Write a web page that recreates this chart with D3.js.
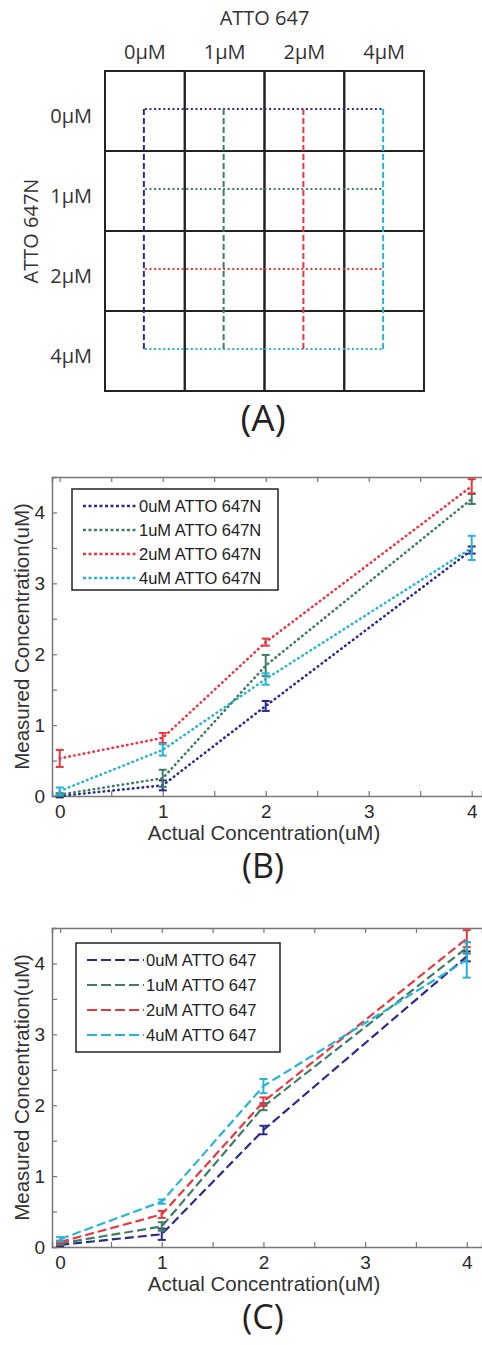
<!DOCTYPE html>
<html>
<head>
<meta charset="utf-8">
<script src="https://cdn.jsdelivr.net/npm/d3@7"></script>
<style>
  body { margin: 0; background: #fff; }
  svg { display: block; }
</style>
</head>
<body>
<script>
// panel A grid labels
const concLabels = ["0μM", "1μM", "2μM", "4μM"]
const colors = ["#2b2b8e", "#3f7c64", "#e8373f", "#27b3d8"]

// panels B and C share x values
const actual = [0, 1, 2, 4]
const xTicks = [0, 0.5, 1, 1.5, 2, 2.5, 3, 3.5, 4]
const yTicks = [0, 0.5, 1, 1.5, 2, 2.5, 3, 3.5, 4]

const legendB = ["0uM ATTO 647N", "1uM ATTO 647N", "2uM ATTO 647N", "4uM ATTO 647N"]
const b0 = [0.00, 0.15, 1.27, 3.47]
const b1 = [0.02, 0.25, 1.84, 4.19]
const b2 = [0.53, 0.82, 2.17, 4.37]
const b3 = [0.07, 0.65, 1.65, 3.50]
const bErr0 = [0.02, 0.07, 0.07, 0.05]
const bErr1 = [0.02, 0.12, 0.15, 0.07]
const bErr2 = [0.12, 0.07, 0.05, 0.10]
const bErr3 = [0.05, 0.08, 0.08, 0.17]

const legendC = ["0uM ATTO 647", "1uM ATTO 647", "2uM ATTO 647", "4uM ATTO 647"]
const c0 = [0.03, 0.18, 1.65, 4.10]
const c1 = [0.05, 0.29, 1.98, 4.22]
const c2 = [0.07, 0.46, 2.05, 4.35]
const c3 = [0.11, 0.64, 2.27, 4.05]
const cErr0 = [0.02, 0.08, 0.06, 0.07]
const cErr1 = [0.02, 0.06, 0.05, 0.08]
const cErr2 = [0.02, 0.05, 0.06, 0.12]
const cErr3 = [0.03, 0.03, 0.10, 0.25]

const W = 482, H = 1345

const svg = d3.select("body")
  .append("svg")
  .attr("width", W)
  .attr("height", H)

// ---------- panel A ----------
const gridFont = "'Open Sans', 'Noto Sans', sans-serif"
const colScale = d3.scaleBand().domain(concLabels).range([105, 424])
const rowScale = d3.scaleBand().domain(concLabels).range([71, 391])
const colMid = d => colScale(d) + colScale.bandwidth() / 2
const rowMid = d => rowScale(d) + rowScale.bandwidth() / 2

const gA = svg.append("g")

gA.append("text")
  .attr("x", colScale.range()[0] + (colScale.range()[1] - colScale.range()[0]) / 2)
  .attr("y", 25)
  .attr("text-anchor", "middle")
  .style("font-family", gridFont).style("font-size", "20px").attr("fill", "#333")
  .text("ATTO 647")

gA.selectAll(".colLabel")
  .data(concLabels)
  .enter()
  .append("text")
  .attr("x", d => colMid(d))
  .attr("y", 59)
  .attr("text-anchor", "middle")
  .style("font-family", gridFont).style("font-size", "20px").attr("fill", "#333")
  .text(d => d)

gA.selectAll(".rowLabel")
  .data(concLabels)
  .enter()
  .append("text")
  .attr("x", 92)
  .attr("y", d => rowMid(d) + 12)
  .attr("text-anchor", "end")
  .style("font-family", gridFont).style("font-size", "20px").attr("fill", "#333")
  .text(d => d)

gA.append("text")
  .attr("transform", "translate(38, 231) rotate(-90)")
  .attr("text-anchor", "middle")
  .style("font-family", gridFont).style("font-size", "20px").attr("fill", "#333")
  .text("ATTO 647N")

// grid cells
const cells = []
concLabels.forEach(r => concLabels.forEach(c => cells.push({r, c})))
gA.selectAll("rect")
  .data(cells)
  .enter()
  .append("rect")
  .attr("x", d => colScale(d.c))
  .attr("y", d => rowScale(d.r))
  .attr("width", colScale.bandwidth())
  .attr("height", rowScale.bandwidth())
  .attr("fill", "none")
  .attr("stroke", "#222")
  .attr("stroke-width", 2)

// horizontal dotted lines (ATTO 647N rows)
gA.selectAll(".hline")
  .data(concLabels)
  .enter()
  .append("line")
  .attr("x1", colMid(concLabels[0]))
  .attr("x2", colMid(concLabels[3]))
  .attr("y1", d => rowMid(d) - 2)
  .attr("y2", d => rowMid(d) - 2)
  .attr("stroke", (d, i) => colors[i])
  .attr("stroke-width", 2)
  .attr("stroke-dasharray", "2,2.6")

// vertical dashed lines (ATTO 647 columns)
gA.selectAll(".vline")
  .data(concLabels)
  .enter()
  .append("line")
  .attr("x1", d => colMid(d) - 1)
  .attr("x2", d => colMid(d) - 1)
  .attr("y1", rowMid(concLabels[0]) - 2)
  .attr("y2", rowMid(concLabels[3]) - 1)
  .attr("stroke", (d, i) => colors[i])
  .attr("stroke-width", 2)
  .attr("stroke-dasharray", "6,3")

gA.append("text")
  .attr("x", 263).attr("y", 431)
  .attr("text-anchor", "middle")
  .style("font-family", gridFont).style("font-size", "37px").attr("fill", "#222")
  .text("(A)")

// ---------- panels B and C ----------
function drawPlot(cfg) {
  const x = d3.scaleLinear().domain(cfg.xDomain).range([52, 482])
  const y = d3.scaleLinear().domain([0, 4.5]).range([cfg.bottom, cfg.top])
  const g = svg.append("g")
  const font = "'Liberation Sans', Arial, sans-serif"

  const xAxis = d3.axisBottom(x).tickValues(xTicks)
    .tickSize(-5).tickPadding(9)
    .tickFormat(d => Number.isInteger(d) ? d : "")
  const xTop = d3.axisTop(x).tickValues(xTicks).tickSize(-5).tickFormat("")
  const yAxis = d3.axisLeft(y).tickValues(yTicks)
    .tickSize(-5).tickPadding(7)
    .tickFormat(d => Number.isInteger(d) ? d : "")

  const ax = g.append("g").attr("transform", `translate(0, ${cfg.bottom})`).call(xAxis)
  const at = g.append("g").attr("transform", `translate(0, ${cfg.top})`).call(xTop)
  const ay = g.append("g").attr("transform", `translate(52, 0)`).call(yAxis)
  ;[ax, at, ay].forEach(a => {
    a.select(".domain").attr("stroke", "#777").attr("stroke-width", 1.5)
    a.selectAll(".tick line").attr("stroke", "#777").attr("stroke-width", 1.2)
    a.selectAll("text").style("font-family", font).style("font-size", "19px").attr("fill", "#2a2a2a")
  })

  g.append("text")
    .attr("x", 264).attr("y", cfg.bottom + 44)
    .attr("text-anchor", "middle")
    .style("font-family", font).style("font-size", "20.5px").attr("fill", "#333")
    .text("Actual Concentration(uM)")

  g.append("text")
    .attr("transform", `translate(29, ${(cfg.top + cfg.bottom) / 2}) rotate(-90)`)
    .attr("text-anchor", "middle")
    .style("font-family", font).style("font-size", "20.5px").attr("fill", "#333")
    .text("Measured Concentration(uM)")

  const line = d3.line().x(d => x(d.x)).y(d => y(d.v))

  cfg.series.forEach((s, i) => {
    const pts = actual.map((a, j) => ({x: a, v: s[j], e: cfg.errs[i][j]}))
    g.append("path")
      .datum(pts)
      .attr("d", line)
      .attr("fill", "none")
      .attr("stroke", colors[i])
      .attr("stroke-width", cfg.width)
      .attr("stroke-linecap", cfg.cap)
      .attr("stroke-dasharray", cfg.dash)

    const eb = g.append("g").selectAll("g")
      .data(pts)
      .enter()
      .append("g")
      .attr("stroke", colors[i])
      .attr("stroke-width", 2)
    eb.append("line")
      .attr("x1", d => x(d.x)).attr("x2", d => x(d.x))
      .attr("y1", d => y(d.v - d.e)).attr("y2", d => y(d.v + d.e))
    eb.append("line")
      .attr("x1", d => x(d.x) - 4).attr("x2", d => x(d.x) + 4)
      .attr("y1", d => y(d.v - d.e)).attr("y2", d => y(d.v - d.e))
    eb.append("line")
      .attr("x1", d => x(d.x) - 4).attr("x2", d => x(d.x) + 4)
      .attr("y1", d => y(d.v + d.e)).attr("y2", d => y(d.v + d.e))
  })

  // legend
  const lg = g.append("g")
  lg.append("rect")
    .attr("x", cfg.legend.x).attr("y", cfg.legend.y)
    .attr("width", cfg.legend.w).attr("height", cfg.legend.h)
    .attr("fill", "#fff").attr("stroke", "#222").attr("stroke-width", 1.5)
  const items = lg.selectAll(".item")
    .data(cfg.labels)
    .enter()
    .append("g")
    .attr("transform", (d, i) => `translate(${cfg.legend.x}, ${cfg.legend.y + 17 + i * cfg.legend.step})`)
  items.append("line")
    .attr("x1", 11).attr("x2", cfg.legend.lineEnd)
    .attr("stroke", (d, i) => colors[i])
    .attr("stroke-width", cfg.width)
    .attr("stroke-dasharray", cfg.legendDash)
  items.append("text")
    .attr("x", cfg.legend.lineEnd + 2)
    .attr("y", 6)
    .style("font-family", font).style("font-size", "16.5px").attr("fill", "#222")
    .text(d => d)

  g.append("text")
    .attr("x", 263).attr("y", cfg.bottom + 82)
    .attr("text-anchor", "middle")
    .style("font-family", gridFont).style("font-size", "34px").attr("fill", "#222")
    .text(cfg.tag)
}

drawPlot({
  xDomain: [-0.075, 4.1], top: 477, bottom: 796,
  series: [b0, b1, b2, b3], errs: [bErr0, bErr1, bErr2, bErr3],
  dash: "0.5,4.4", cap: "round", legendDash: "3,2.5", width: 2.6,
  labels: legendB, tag: "(B)",
  legend: {x: 72, y: 489, w: 206, h: 101, step: 24, lineEnd: 65}
})

drawPlot({
  xDomain: [-0.08, 4.15], top: 928, bottom: 1247,
  series: [c0, c1, c2, c3], errs: [cErr0, cErr1, cErr2, cErr3],
  dash: "9,4", cap: "butt", legendDash: "10,4", width: 2.2,
  labels: legendC, tag: "(C)",
  legend: {x: 76, y: 943, w: 204, h: 109, step: 25, lineEnd: 68}
})
</script>
</body>
</html>
